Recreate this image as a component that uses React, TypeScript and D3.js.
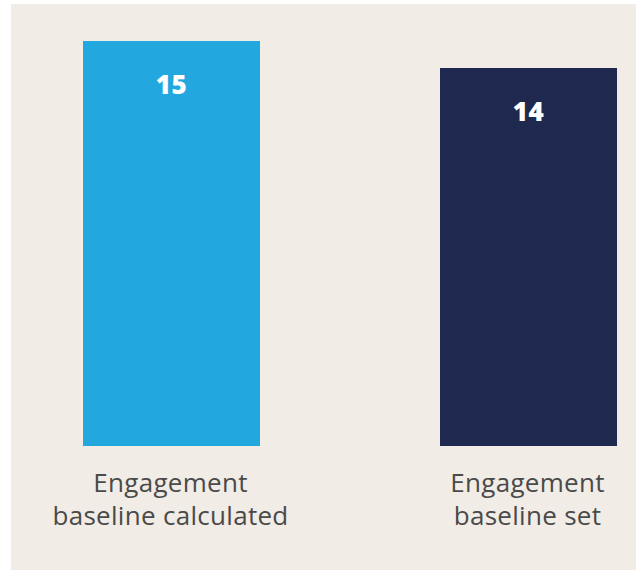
import React from "react";
import * as d3 from "d3";

const categories: string[][] = [
  ["Engagement", "baseline calculated"],
  ["Engagement", "baseline set"],
];
const values: number[] = [15, 14];
const colors: string[] = ["#22a7df", "#1f284f"];

export default function App() {
  const W = 636;
  const H = 571;
  const xb = d3
    .scaleBand<number>()
    .domain(d3.range(values.length))
    .range([83, 617])
    .paddingInner(180 / 357)
    .paddingOuter(0);
  const y = d3.scaleLinear().domain([0, 15]).range([446, 41]);
  return (
    <svg
      width={W}
      height={H}
      style={{ position: "absolute", left: 0, top: 0 }}
      fontFamily="'Open Sans', sans-serif"
    >
      <rect x={11} y={4} width={W - 11} height={566} fill="#f1ece5" />
      {values.map((v, i) => {
        const bx = xb(i)!;
        const bw = xb.bandwidth();
        const cx = bx + bw / 2;
        return (
          <g key={i}>
            <rect x={bx} y={y(v)} width={bw} height={y(0) - y(v)} fill={colors[i]} />
            <text
              x={cx}
              y={y(v) + 53}
              textAnchor="middle"
              fill="#fff"
              fontWeight={800}
              fontSize={26}
              letterSpacing={0.5}
            >
              {v}
            </text>
            {categories[i].map((line, j) => (
              <text
                key={j}
                x={cx - 1}
                y={492 + j * 33}
                textAnchor="middle"
                fill="#4a4a4a"
                fontSize={26}
                letterSpacing={0.3}
              >
                {line}
              </text>
            ))}
          </g>
        );
      })}
    </svg>
  );
}
